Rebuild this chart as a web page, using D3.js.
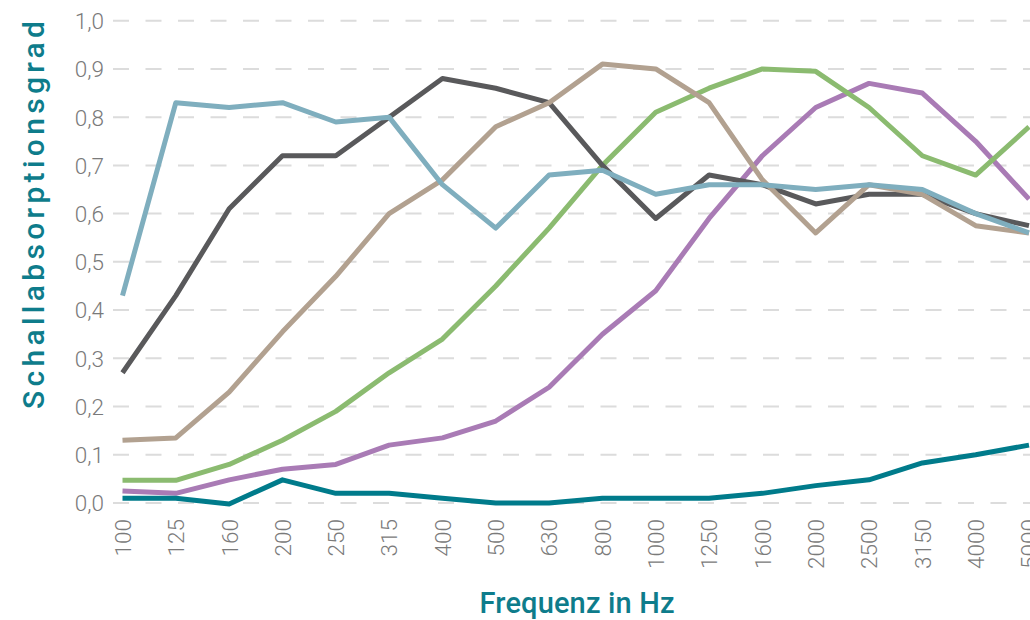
<!DOCTYPE html>
<html>
<head>
<meta charset="utf-8">
<script src="https://cdn.jsdelivr.net/npm/d3@7"></script>
<style>
  body { margin: 0; background: #fff; }
  svg { display: block; }
  .tick text { font-family: Roboto, sans-serif; font-weight: 300; fill: #7a7a7a; }
  .axisTitle { font-family: Roboto, sans-serif; font-weight: 500; fill: #0e7c8b; }
</style>
</head>
<body>
<svg id="chart" width="1030" height="620"></svg>
<script>
const frequencies = ["100","125","160","200","250","315","400","500","630","800","1000","1250","1600","2000","2500","3150","4000","5000"];
const yTicks = [0, 0.1, 0.2, 0.3, 0.4, 0.5, 0.6, 0.7, 0.8, 0.9, 1.0];

const lightBlue = [0.43,0.83,0.82,0.83,0.79,0.80,0.66,0.57,0.68,0.69,0.64,0.66,0.66,0.65,0.66,0.65,0.60,0.56];
const darkGrey  = [0.27,0.43,0.61,0.72,0.72,0.80,0.88,0.86,0.83,0.70,0.59,0.68,0.66,0.62,0.64,0.64,0.60,0.575];
const tan       = [0.13,0.135,0.23,0.355,0.47,0.60,0.67,0.78,0.83,0.91,0.90,0.83,0.67,0.56,0.66,0.64,0.575,0.56];
const green     = [0.047,0.047,0.08,0.13,0.19,0.27,0.34,0.45,0.57,0.70,0.81,0.86,0.90,0.895,0.82,0.72,0.68,0.78];
const purple    = [0.025,0.02,0.048,0.07,0.08,0.12,0.135,0.17,0.24,0.35,0.44,0.59,0.72,0.82,0.87,0.85,0.75,0.63];
const teal      = [0.01,0.01,-0.002,0.048,0.02,0.02,0.01,0.0,0.0,0.01,0.01,0.01,0.02,0.036,0.048,0.083,0.10,0.12];

// drawing order (first is below)
const series = [
  { values: purple,    color: "#a97bb5" },
  { values: green,     color: "#8bbb70" },
  { values: darkGrey,  color: "#59595b" },
  { values: tan,       color: "#b2a190" },
  { values: lightBlue, color: "#7faebe" },
  { values: teal,      color: "#007b8b" }
];

const svg = d3.select('#chart');

const xScale = d3.scalePoint()
  .domain(frequencies)
  .range([122.5, 1029]);

const yScale = d3.scaleLinear()
  .domain([0, 1])
  .range([503, 20.7]);

// gridlines
svg.append('g')
  .selectAll('line')
  .data(yTicks)
  .enter()
  .append('line')
  .attr('x1', 113)
  .attr('x2', 1030)
  .attr('y1', d => yScale(d))
  .attr('y2', d => yScale(d))
  .style('stroke', '#dcdcdc')
  .style('stroke-width', 2)
  .style('stroke-dasharray', '16,16.5');

// y axis
const yAxis = svg.append('g')
  .attr('transform', 'translate(104,0)')
  .call(d3.axisLeft(yScale).tickValues(yTicks).tickSize(0).tickPadding(0)
    .tickFormat(d => d3.format('.1f')(d).replace('.', ',')));
yAxis.select('.domain').remove();
yAxis.selectAll('text').style('font-size', '22.5px').attr('dy', '0.35em');

// x axis
const xAxis = svg.append('g')
  .attr('transform', 'translate(0,519)')
  .call(d3.axisBottom(xScale).tickSize(0).tickPadding(0));
xAxis.select('.domain').remove();
xAxis.selectAll('text')
  .style('font-size', '22.5px')
  .style('text-anchor', 'end')
  .attr('transform', 'rotate(-90)')
  .attr('x', 0)
  .attr('y', 0)
  .attr('dx', 0)
  .attr('dy', '0.35em');

// lines
const line = d3.line()
  .x((d, i) => xScale(frequencies[i]))
  .y(d => yScale(d));

svg.append('g')
  .selectAll('path')
  .data(series)
  .enter()
  .append('path')
  .style('fill', 'none')
  .style('stroke', d => d.color)
  .style('stroke-width', 5)
  .style('stroke-linejoin', 'round')
  .attr('d', d => line(d.values));

// axis titles
svg.append('text')
  .attr('class', 'axisTitle')
  .attr('x', 577)
  .attr('y', 613)
  .attr('textLength', 195)
  .attr('lengthAdjust', 'spacing')
  .style('font-size', '29px')
  .style('text-anchor', 'middle')
  .text('Frequenz in Hz');

svg.append('text')
  .attr('class', 'axisTitle')
  .attr('transform', 'translate(44,215) rotate(-90)')
  .attr('textLength', 388)
  .attr('lengthAdjust', 'spacing')
  .style('font-size', '30px')
  .style('text-anchor', 'middle')
  .text('Schallabsorptionsgrad');
</script>
</body>
</html>
